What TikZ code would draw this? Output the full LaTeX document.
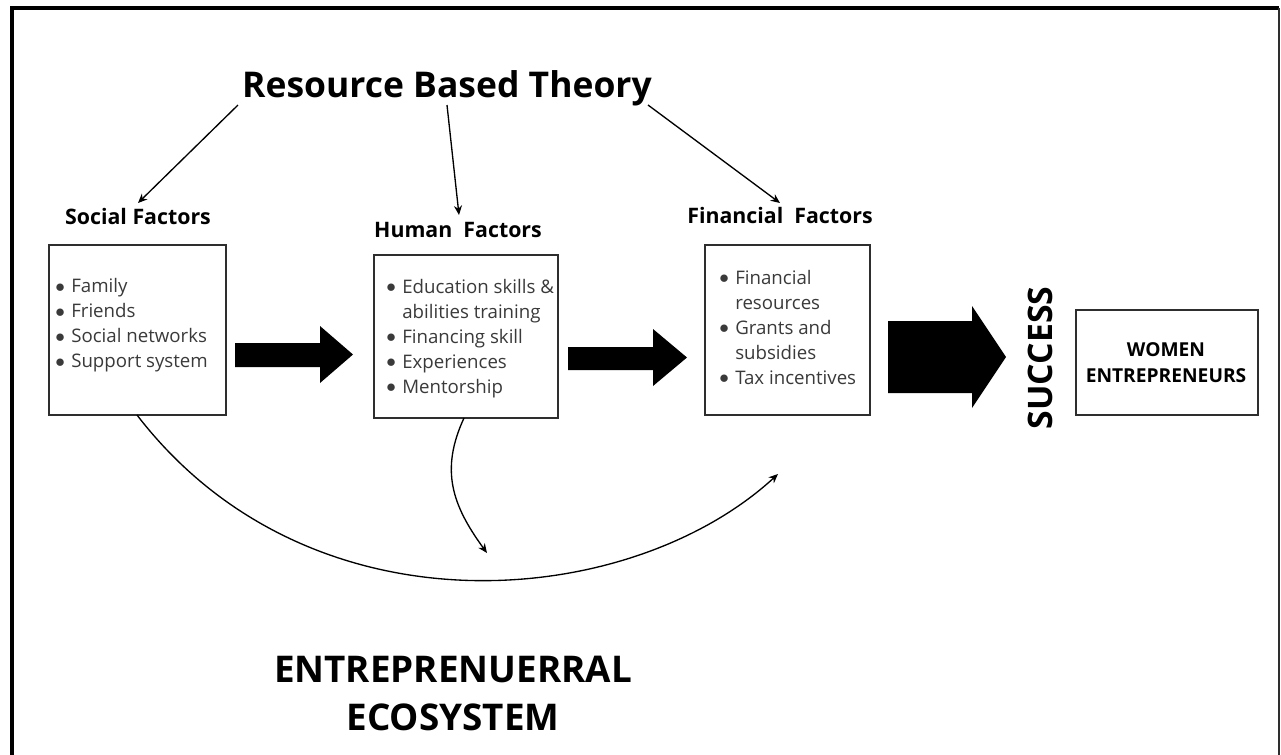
\documentclass[tikz,border=0pt]{standalone}
\usepackage{fontspec}
\setmainfont{Open Sans}
\usetikzlibrary{arrows.meta,fit}
\definecolor{boxline}{HTML}{2E2E2E}
\definecolor{itemtext}{HTML}{3A3A3A}
\newcommand{\itm}{\makebox[12pt][l]{\raisebox{0.2pt}{$\bullet$}}}
\newcommand{\cont}{\hspace{12pt}}
\begin{document}
\begin{tikzpicture}[x=0.75pt,y=-0.75pt,
  factorbox/.style={draw=boxline,line width=1.5pt,inner sep=0pt},
  itemlist/.style={anchor=base west,inner sep=0pt,text=itemtext,
    font=\fontsize{14}{18.75}\selectfont},
  factorlabel/.style={anchor=base,inner sep=0pt,font=\bfseries\fontsize{16}{19}\selectfont},
  thin arrow/.style={line width=1pt,-{Stealth[length=7pt,width=6pt]}},
  block arrow/.style={fill=black},
]
\useasboundingbox (0,0) rectangle (1281,754);
\fill[white] (0,0) rectangle (1281,754);

% frame
\draw[line width=3pt] (12,760) -- (12,8) -- (1279,8);
\draw[line width=1.5pt,boxline] (1279,8) -- (1279,760);

% title
\node[anchor=base,inner sep=0pt,font=\bfseries\fontsize{26.6}{30}\selectfont] (rbt) at (447,97) {Resource Based Theory};

% factor labels
\node[factorlabel] (lsoc) at (138,224) {Social Factors};
\node[factorlabel] (lhum) at (458,237) {Human\ \ Factors};
\node[factorlabel] (lfin) at (780,223) {Financial\ \ Factors};

% boxes
\node[factorbox,fit={(49,245) (226,415)}] (bsoc) {};
\node[factorbox,fit={(374,255) (558,418)}] (bhum) {};
\node[factorbox,fit={(705,245) (870,415)}] (bfin) {};
\node[factorbox,fit={(1076,310) (1258,415)}] (bwom) {};

% lists
\node[itemlist] (tsoc) at (55,292.7) {\begin{tabular}[t]{@{}l@{}}
\itm Family\\ \itm Friends\\ \itm Social networks\\ \itm Support system\end{tabular}};
\node[itemlist] (thum) at (386,293) {\begin{tabular}[t]{@{}l@{}}
\itm Education skills \&\\ \cont abilities training\\ \itm Financing skill\\ \itm Experiences\\ \itm Mentorship\end{tabular}};
\node[itemlist] (tfin) at (719,284) {\begin{tabular}[t]{@{}l@{}}
\itm Financial\\ \cont resources\\ \itm Grants and\\ \cont subsidies\\ \itm Tax incentives\end{tabular}};

% women entrepreneurs (base anchor sits on the last line)
\node[anchor=base,inner sep=0pt,align=center,font=\bfseries\fontsize{14.4}{19.5}\selectfont] (twom) at (1166,382.7) {WOMEN\\ENTREPRENEURS};

% success
\node[anchor=base,rotate=90,inner sep=0pt,font=\bfseries\fontsize{25.3}{28}\selectfont] (succ) at (1052,358) {SUCCESS};

% ecosystem
\node[anchor=base,inner sep=0pt,align=center,font=\bfseries\fontsize{27.6}{36}\selectfont] (eco) at (453,730) {ENTREPRENUERRAL\\ECOSYSTEM};

% block arrows
\fill[block arrow] (235,343) -- (320,343) -- (320,326) -- (353,354.5) -- (320,383) -- (320,367) -- (235,367) -- cycle;
\fill[block arrow] (568,347) -- (653,347) -- (653,329) -- (687,357.5) -- (653,386) -- (653,370) -- (568,370) -- cycle;
\fill[block arrow] (888,321) -- (972,321) -- (972,306) -- (1006,357) -- (972,408) -- (972,393) -- (888,393) -- cycle;

% arrows from the theory
\coordinate (r1) at (238,105);
\coordinate (r2) at (447,105);
\coordinate (r3) at (648,105);
\coordinate (a1) at (138,203);
\coordinate (a2) at (459,215);
\coordinate (a3) at (780,203);
\draw[thin arrow] (r1) -- (a1);
\draw[thin arrow] (r2) -- (a2);
\draw[thin arrow] (r3) -- (a3);

% curved links
\coordinate (s0) at (137,415);
\coordinate (s1) at (778,474);
\coordinate (h0) at (464,418);
\coordinate (h1) at (487,553);
\draw[thin arrow] (s0) .. controls (310,640) and (630,610) .. (s1);
\draw[thin arrow] (h0) .. controls (440,470) and (452,505) .. (h1);
\end{tikzpicture}
\end{document}
